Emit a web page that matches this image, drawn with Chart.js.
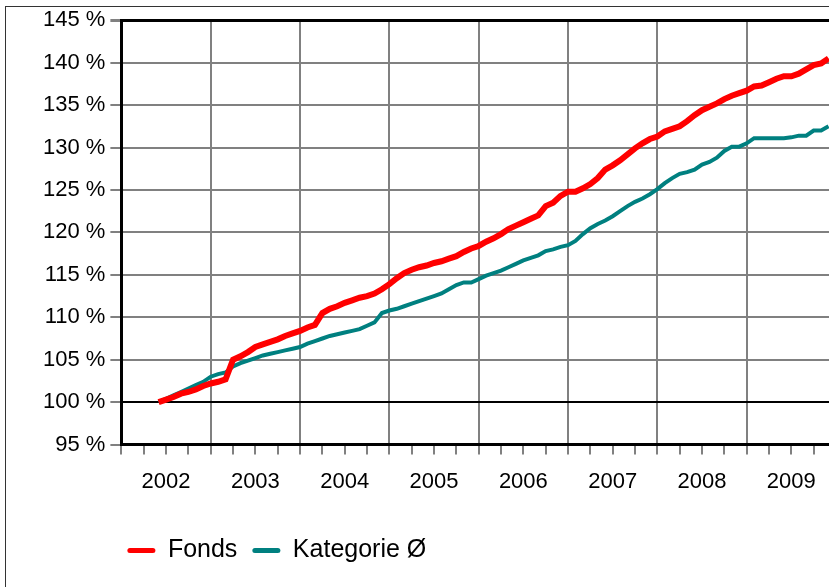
<!DOCTYPE html>
<html lang="de">
<head>
  <meta charset="UTF-8">
  <title>Fonds vs. Kategorie</title>
  <script src="https://cdn.jsdelivr.net/npm/chart.js"></script>
  <style>
    html, body {
      margin: 0;
      padding: 0;
      background: white;
      overflow: hidden;
    }

    .rahmen {
      position: absolute;
      left: 5px;
      top: 6px;
      width: 880px;
      height: 620px;
      border: 1px solid #333;
      background: white;
    }

    canvas {
      position: absolute;
      left: 0;
      top: -5px;
    }
  </style>
</head>
<body>
  <div class="rahmen">
    <canvas id="lineChart" width="880" height="620"></canvas>
  </div>

  <script>
    // Jahre auf der x-Achse
    const jahre = ['2002', '2003', '2004', '2005', '2006', '2007', '2008', '2009'];
    const monatsNamen = ['01', '02', '03', '04', '05', '06', '07', '08', '09', '10', '11', '12'];
    const startMonat = '06/2002';

    // Wertentwicklung in %, monatlich ab 06/2002
    const fonds = [
      100.0, 100.3, 100.6, 101.0, 101.2, 101.5, 101.9,
      102.2, 102.4, 102.7, 105.0, 105.4, 105.9, 106.5, 106.8, 107.1, 107.4, 107.8, 108.1,
      108.4, 108.8, 109.1, 110.5, 111.0, 111.3, 111.7, 112.0, 112.3, 112.5, 112.8, 113.3,
      113.9, 114.6, 115.2, 115.6, 115.9, 116.1, 116.4, 116.6, 116.9, 117.2, 117.7, 118.1,
      118.4, 118.9, 119.3, 119.8, 120.4, 120.8, 121.2, 121.6, 122.0, 123.1, 123.5, 124.3,
      124.8, 124.8, 125.2, 125.7, 126.4, 127.4, 127.9, 128.5, 129.2, 129.9, 130.5, 131.0,
      131.3, 131.9, 132.2, 132.5, 133.1, 133.8, 134.4, 134.8, 135.2, 135.7, 136.1, 136.4,
      136.7, 137.2, 137.3, 137.7, 138.1, 138.4, 138.4, 138.7, 139.2, 139.7, 139.9, 140.5
    ];

    const kategorie = [
      100.0, 100.4, 100.8, 101.2, 101.6, 102.0, 102.4,
      103.0, 103.3, 103.5, 104.2, 104.6, 104.9, 105.2, 105.5, 105.7, 105.9, 106.1, 106.3,
      106.5, 106.9, 107.2, 107.5, 107.8, 108.0, 108.2, 108.4, 108.6, 109.0, 109.4, 110.5,
      110.8, 111.0, 111.3, 111.6, 111.9, 112.2, 112.5, 112.8, 113.3, 113.8, 114.1, 114.1,
      114.5, 114.9, 115.2, 115.5, 115.9, 116.3, 116.7, 117.0, 117.3, 117.8, 118.0, 118.3,
      118.5, 119.0, 119.8, 120.5, 121.0, 121.4, 121.9, 122.5, 123.1, 123.6, 124.0, 124.5,
      125.1, 125.8, 126.4, 126.9, 127.1, 127.4, 128.0, 128.3, 128.8, 129.6, 130.1, 130.1,
      130.5, 131.1, 131.1, 131.1, 131.1, 131.1, 131.2, 131.4, 131.4, 132.0, 132.0, 132.5
    ];

    // Monats-Kategorien 01/2002 .. 01/2010
    const monate = [];
    jahre.forEach(j => monatsNamen.forEach(m => monate.push(m + '/' + j)));
    monate.push('01/2010');

    const versatz = monate.indexOf(startMonat);
    const auffuellen = werte => Array(versatz).fill(null).concat(werte);

    const schrift = { family: "'Liberation Sans', Arial, sans-serif", size: 22 };

    // Legende etwas nach links und unten ruecken wie im Original
    const legendeVerschieben = {
      id: 'legendeVerschieben',
      afterLayout(chart) {
        chart.legend.left -= 9;
        chart.legend.right -= 9;
        chart.legend.top += 14;
        chart.legend.bottom += 14;
      }
    };

    const ctx = document.getElementById('lineChart').getContext('2d');
    new Chart(ctx, {
      type: 'line',
      data: {
        labels: monate,
        datasets: [{
          label: 'Fonds',
          data: auffuellen(fonds),
          borderColor: '#ff0000',
          backgroundColor: '#ff0000',
          borderWidth: 6,
          pointRadius: 0,
          tension: 0,
          fill: false
        }, {
          label: 'Kategorie Ø',
          data: auffuellen(kategorie),
          borderColor: '#008080',
          backgroundColor: '#008080',
          borderWidth: 4,
          pointRadius: 0,
          tension: 0,
          fill: false
        }]
      },
      plugins: [legendeVerschieben],
      options: {
        responsive: false,
        animation: false,
        layout: {
          padding: { top: 1, right: 50, bottom: 63, left: 32 }
        },
        plugins: {
          tooltip: { enabled: false },
          legend: {
            position: 'bottom',
            align: 'start',
            fullSize: false,
            labels: {
              color: '#000',
              font: { family: schrift.family, size: 25 },
              boxWidth: 28,
              boxHeight: 5,
              padding: 15,
              useBorderRadius: true,
              borderRadius: 2.5,
              generateLabels(chart) {
                const items = Chart.defaults.plugins.legend.labels.generateLabels(chart);
                items.forEach(it => { it.lineWidth = 0; });
                return items;
              }
            }
          }
        },
        scales: {
          x: {
            type: 'category',
            offset: false,
            border: { color: '#000', width: 3 },
            grid: {
              color: c => c.index % 12 === 0 ? '#808080' : 'transparent',
              tickColor: c => c.index % 3 === 0 ? '#808080' : 'transparent',
              lineWidth: 2,
              tickLength: 10
            },
            ticks: {
              autoSkip: false,
              maxRotation: 0,
              minRotation: 0,
              padding: 14,
              color: '#000',
              font: schrift,
              callback: (v, i) => i % 12 === 6 ? jahre[Math.floor(i / 12)] : ''
            }
          },
          y: {
            min: 95,
            max: 145,
            border: { color: '#000', width: 3 },
            grid: {
              color: c => (c.tick.value === 100 || c.tick.value === 145) ? '#000' : '#808080',
              tickColor: '#808080',
              lineWidth: c => c.tick.value === 145 ? 3 : 2,
              tickLength: 11
            },
            ticks: {
              stepSize: 5,
              padding: 5,
              color: '#000',
              font: schrift,
              callback: v => v + ' %'
            }
          }
        }
      }
    });
  </script>
</body>
</html>
